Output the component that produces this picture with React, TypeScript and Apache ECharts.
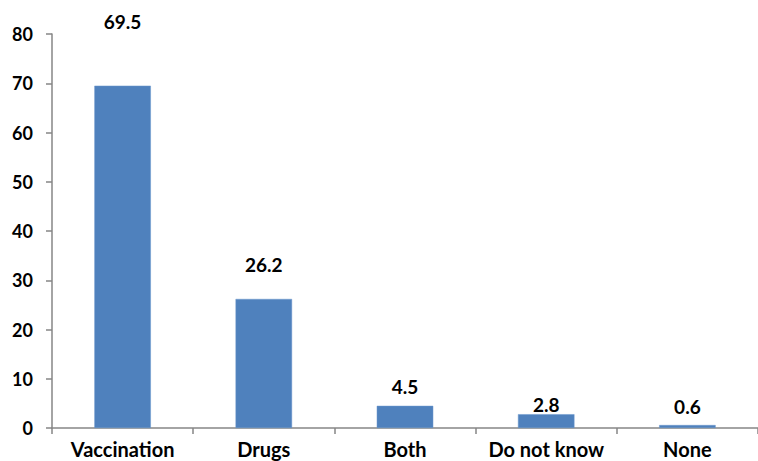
import React, { useEffect, useRef } from "react";
import * as echarts from "echarts";

const categories = ["Vaccination", "Drugs", "Both", "Do not know", "None"];
const values = [69.5, 26.2, 4.5, 2.8, 0.6];
const yTicks = [0, 10, 20, 30, 40, 50, 60, 70, 80];
// distance of each value label above its bar (as in the reference)
const labelDistances = [55, 25, 10, 0, 9];

const FONT = "Lato, 'Open Sans', sans-serif";

export default function App() {
  const ref = useRef<HTMLDivElement>(null);
  useEffect(() => {
    if (!ref.current) return;
    const chart = echarts.init(ref.current, undefined, { renderer: "svg" });
    chart.setOption({
      animation: false,
      backgroundColor: "#ffffff",
      grid: { left: 52, top: 34, height: 394, width: 717.5, containLabel: false },
      xAxis: {
        type: "category",
        data: categories,
        axisLine: { lineStyle: { color: "#868686", width: 1.5 } },
        axisTick: { show: true, length: 6, lineStyle: { color: "#868686", width: 1.5 } },
        axisLabel: {
          color: "#000",
          fontFamily: FONT,
          fontWeight: "bold",
          fontSize: 20,
          lineHeight: 22,
          margin: 10,
          interval: 0,
        },
      },
      yAxis: {
        type: "value",
        min: yTicks[0],
        max: yTicks[yTicks.length - 1],
        interval: 10,
        splitLine: { show: false },
        axisLine: { show: true, lineStyle: { color: "#868686", width: 1.5 } },
        axisTick: { show: true, length: 6, lineStyle: { color: "#868686", width: 1.5 } },
        axisLabel: {
          color: "#000",
          fontFamily: FONT,
          fontWeight: "bold",
          fontSize: 18,
          margin: 19,
        },
      },
      series: [
        {
          type: "bar",
          barWidth: "40%",
          data: values.map((v, i) => ({
            value: v,
            label: { distance: labelDistances[i] },
          })),
          itemStyle: { color: "#4F81BD", borderColor: "#6a96cc", borderWidth: 0.5 },
          label: {
            show: true,
            position: "top",
            color: "#000",
            fontFamily: FONT,
            fontWeight: "bold",
            fontSize: 19,
            formatter: (p: any) => p.value.toFixed(1),
          },
        },
      ],
    });
    return () => chart.dispose();
  }, []);
  return (
    <div
      ref={ref}
      style={{ position: "fixed", left: 0, top: 0, width: 758, height: 461, background: "#fff" }}
    />
  );
}
